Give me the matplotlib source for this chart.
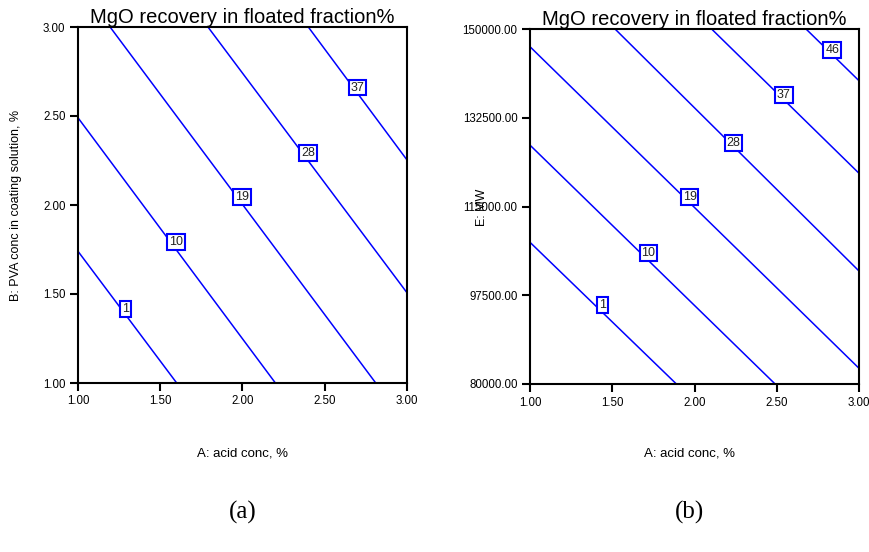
import matplotlib
matplotlib.use("Agg")
import matplotlib.pyplot as plt

plt.rcParams['font.family'] = ['Liberation Sans', 'DejaVu Sans']

# contour levels shared by both panels
levels_a = [1, 10, 19, 28, 37]
levels_b = [1, 10, 19, 28, 37, 46]

# (a) A: acid conc vs B: PVA conc -- end points of each contour line
a_x_start = [1.00, 1.00, 1.195, 1.79, 2.40]
a_y_start = [1.74, 2.49, 3.00, 3.00, 3.00]
a_x_end = [1.60, 2.20, 2.81, 3.00, 3.00]
a_y_end = [1.00, 1.00, 1.00, 1.507, 2.253]
a_lab_x = [1.29, 1.594, 1.995, 2.40, 2.70]
a_lab_y = [1.417, 1.794, 2.047, 2.294, 2.66]

# (b) A: acid conc vs E: MW
b_x_start = [1.00, 1.00, 1.00, 1.517, 2.104, 2.678]
b_y_start = [107940, 127100, 146510, 150000, 150000, 150000]
b_x_end = [1.89, 2.49, 3.00, 3.00, 3.00, 3.00]
b_y_end = [80000, 80000, 83100, 102280, 121550, 139800]
b_lab_x = [1.44, 1.72, 1.97, 2.236, 2.544, 2.838]
b_lab_y = [95580, 105770, 116930, 127580, 137000, 145860]

a_yticks = [1.00, 1.50, 2.00, 2.50, 3.00]
b_yticks = [80000, 97500, 115000, 132500, 150000]
xticks = [1.00, 1.50, 2.00, 2.50, 3.00]

title = "MgO recovery in floated fraction%"
blue = "#0000ff"

fig = plt.figure(figsize=(8.7, 5.52), dpi=100)
ax1 = fig.add_axes([78 / 870, 1 - 383 / 552, 329 / 870, 356 / 552])
ax2 = fig.add_axes([530 / 870, 1 - 384 / 552, 329 / 870, 355 / 552])


def draw_panel(ax, levels, xs, ys, xe, ye, lx, ly, yticks, yfmt):
    for lv, x0, y0, x1, y1, tx, ty in zip(levels, xs, ys, xe, ye, lx, ly):
        ax.plot([x0, x1], [y0, y1], color=blue, lw=1.1, zorder=2)
        ax.text(tx, ty, str(lv), ha='center', va='center', fontsize=9,
                color='#222222', zorder=4,
                bbox=dict(boxstyle='square,pad=0.15', fc='white', ec=blue, lw=1.5))
    ax.set_xlim(xticks[0], xticks[-1])
    ax.set_ylim(yticks[0], yticks[-1])
    ax.set_xticks(xticks)
    ax.set_xticklabels(["%.2f" % v for v in xticks])
    ax.set_yticks(yticks)
    ax.set_yticklabels([yfmt % v for v in yticks])
    ax.tick_params(direction='out', length=6, width=1.5, labelsize=8.3, pad=3)
    for sp in ax.spines.values():
        sp.set_linewidth(1.5)
    ax.set_title(title, fontsize=14.5, pad=1)


draw_panel(ax1, levels_a, a_x_start, a_y_start, a_x_end, a_y_end,
           a_lab_x, a_lab_y, a_yticks, "%.2f")
draw_panel(ax2, levels_b, b_x_start, b_y_start, b_x_end, b_y_end,
           b_lab_x, b_lab_y, b_yticks, "%.2f")

fig.text(16 / 870, 1 - 205 / 552, "B: PVA conc in coating solution, %",
         rotation=90, ha='center', va='center', fontsize=9)
fig.text(482 / 870, 1 - 207 / 552, "E: MW", rotation=90,
         ha='center', va='center', fontsize=9)

fig.text(243 / 870, 1 - 453 / 552, "A: acid conc, %", ha='center', va='center', fontsize=9.5)
fig.text(690 / 870, 1 - 453 / 552, "A: acid conc, %", ha='center', va='center', fontsize=9.5)

fig.text(243 / 870, 1 - 512 / 552, "(a)", ha='center', va='center', fontsize=18,
         family=['Liberation Serif', 'DejaVu Serif'])
fig.text(690 / 870, 1 - 512 / 552, "(b)", ha='center', va='center', fontsize=18,
         family=['Liberation Serif', 'DejaVu Serif'])

fig.savefig("out.png", dpi=100)
